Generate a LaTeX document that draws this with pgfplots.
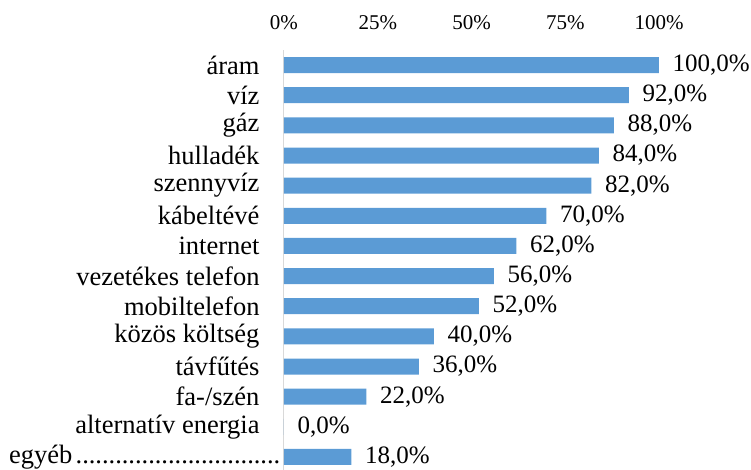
\documentclass[border=0pt]{standalone}
\usepackage{pgfplots}
\pgfplotsset{compat=1.18}
\usepackage{fontspec}
\setmainfont{Liberation Serif}
\definecolor{barblue}{HTML}{5B9BD5}
\definecolor{axgray}{HTML}{D9D9D9}
\newcommand{\mydots}[1]{\cleaders\hbox to 6.6bp{\hss.\hss}\hskip #1\relax}
\begin{document}
\begin{tikzpicture}
\begin{axis}[
  at={(0,0)}, anchor=south west,
  scale only axis, width=375bp, height=422bp,
  xbar, bar width=16bp,
  xmin=0, xmax=100,
  ymin=-0.5, ymax=13.5, y dir=reverse,
  axis x line*=top, x axis line style={draw=none},
  axis y line*=left, y axis line style={draw=axgray, line width=1bp},
  major tick length=0pt,
  /pgf/number format/assume math mode=true,
  xtick={0,25,50,75,100},
  xticklabels={0\%,25\%,50\%,75\%,100\%},
  xticklabel style={font=\fontsize{21bp}{21bp}\selectfont, yshift=17bp},
  ytick={0,...,13},
  yticklabels={áram,víz,gáz,hulladék,szennyvíz,kábeltévé,internet,vezetékes telefon,mobiltelefon,közös költség,távfűtés,fa-/szén,alternatív energia,{egyéb\mydots{211bp}\hspace*{-24bp}}},
  yticklabel style={font=\fontsize{26.5bp}{26.5bp}\selectfont, xshift=-21bp},
  point meta=x,
  nodes near coords={\pgfmathprintnumber[fixed,fixed zerofill,precision=1,use comma]{\pgfplotspointmeta}\%},
  nodes near coords style={font=\fontsize{25bp}{25bp}\selectfont, anchor=west, xshift=10bp, text=black},
  clip=false,
]
\addplot[fill=barblue, draw=none] coordinates {
(100,0) (92,1) (88,2) (84,3) (82,4) (70,5) (62,6) (56,7) (52,8) (40,9) (36,10) (22,11) (0,12) (18,13)
};
\end{axis}
\pgfresetboundingbox
\path (-284bp,2bp) rectangle (467bp,472bp);
\end{tikzpicture}
\end{document}
